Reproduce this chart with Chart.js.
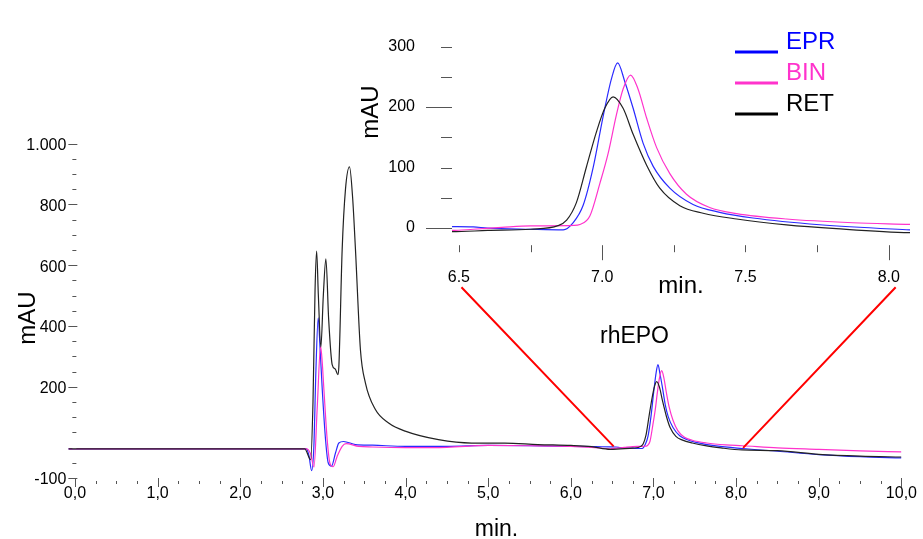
<!DOCTYPE html>
<html>
<head>
<meta charset="utf-8">
<script src="https://cdn.jsdelivr.net/npm/chart.js@4.4.1/dist/chart.umd.min.js"></script>
<style>
  body { margin: 0; background: #fff; }
  #wrap { position: relative; width: 923px; height: 539px; }
  #wrap canvas { position: absolute; left: 0; top: 0; }
</style>
</head>
<body>
<div id="wrap">
  <canvas id="main" width="923" height="539"></canvas>
  <canvas id="inset" width="923" height="539"></canvas>
</div>
<script>
// series names / colours
const seriesNames  = ['EPR', 'BIN', 'RET'];
const seriesColors = ['#2a2aff', '#ff33cc', '#222222'];
const legendText   = ['#0000ff', '#ff33cc', '#000000'];

// RET (black) – retention time (min) / absorbance (mAU)
const retTime = [-0.08, 2.78, 2.852, 2.88, 2.905, 2.924, 2.945, 2.975, 3.005, 3.036, 3.07, 3.112, 3.15, 3.181, 3.193, 3.233, 3.273, 3.322, 3.36, 3.394, 3.454, 3.514, 3.635, 3.795, 3.996, 4.398, 4.8, 5.2, 5.6, 6.0, 6.25, 6.476, 6.6, 6.75, 6.846, 6.876, 6.91, 6.945, 6.98, 7.009, 7.038, 7.073, 7.108, 7.155, 7.201, 7.271, 7.352, 7.469, 7.643, 7.817, 8.073, 8.5, 9.0, 9.5, 10.0];
const retAbs  = [-4, -4, -40, 150, 520, 646, 500, 330, 500, 621, 420, 273, 258, 240, 267, 651, 849, 923, 820, 651, 322, 213, 125, 81, 54, 26, 15, 15, 10, 7, 3, -6, -4, -2, 4, 13, 42, 101, 159, 198, 217, 198, 155, 104, 66, 37, 24.5, 15, 5.4, -1, -7.7, -10, -22, -28, -31];

// EPR (blue)
const eprTime = [-0.08, 2.8, 2.83, 2.864, 2.89, 2.915, 2.943, 2.965, 2.992, 3.032, 3.064, 3.104, 3.153, 3.193, 3.25, 3.394, 3.6, 4.0, 4.5, 5.0, 5.5, 6.0, 6.3, 6.476, 6.55, 6.6, 6.75, 6.864, 6.899, 6.934, 6.969, 7.003, 7.033, 7.054, 7.079, 7.108, 7.143, 7.178, 7.236, 7.317, 7.41, 7.526, 7.759, 8.073, 8.5, 9.0, 9.5, 10.0];
const eprAbs  = [-4, -4, -25, -76, 0, 250, 427, 330, 191, 26, -50, -61, -17, 15, 20, 10, 8, 4, 4, 7, 6, 4, 3, 2.5, 2, 0, -2, -3, 9, 38, 101, 184, 248, 273, 242, 198, 140, 102, 66, 39, 26, 16.6, 5.5, -3, -12, -23, -30, -34];

// BIN (magenta)
const binTime = [-0.08, 2.8, 2.85, 2.892, 2.932, 2.972, 2.992, 3.012, 3.052, 3.084, 3.124, 3.172, 3.233, 3.28, 3.434, 3.6, 4.0, 4.5, 5.0, 5.5, 6.0, 6.25, 6.476, 6.55, 6.65, 6.75, 6.9, 6.922, 6.957, 6.992, 7.021, 7.05, 7.073, 7.099, 7.125, 7.155, 7.19, 7.236, 7.294, 7.375, 7.469, 7.643, 7.875, 8.073, 8.5, 9.0, 9.5, 10.0];
const binAbs  = [-4, -4, -20, -64, 136, 333, 280, 191, 26, -50, -63, -29, 4, 13, 4, 2, 0, 1, 7, 6, 4, 1, -4, -2, 1, 3.5, 4.4, 6, 20, 74, 124, 188, 230, 253, 230, 182, 133, 90, 56, 34, 24, 15, 8.8, 6, -1, -6, -11, -14];

// main axis ticks
const mainXLabels = [0, 1, 2, 3, 4, 5, 6, 7, 8, 9, 10];
const mainXMinor  = [0.25, 0.5, 0.75, 1.25, 1.5, 1.75, 2.25, 2.5, 2.75, 3.25, 3.5, 3.75, 4.25, 4.5, 4.75, 5.25, 5.5, 5.75, 6.25, 6.5, 6.75, 7.25, 7.5, 7.75, 8.25, 8.5, 8.75, 9.25, 9.5, 9.75];
const mainYLabels = [-100, 200, 400, 600, 800, 1000];
const mainYMinor  = [-50, 0, 50, 100, 150, 250, 300, 350, 450, 500, 550, 650, 700, 750, 850, 900, 950];

// inset axis ticks
const insetXLabels = [6.5, 7.0, 7.5, 8.0];
const insetXTicks  = [6.5, 6.75, 7.0, 7.25, 7.5, 7.75, 8.0];
const insetXLong   = [7.0, 8.0];
const insetYTicks  = [0, 50, 100, 150, 200, 250, 300];
const insetYLabels = [0, 100, 200, 300];
const insetYLong   = [0, 200];

// zoom connector lines: inset x value -> main (x, y)
const zoomLinks = [
  { insetX: 6.509, mainX: 6.518, mainY: 4 },
  { insetX: 8.024, mainX: 8.084, mainY: -1 }
];

const FONT = '"Liberation Sans", Arial, sans-serif';
Chart.defaults.font.family = FONT;
Chart.defaults.font.size = 16;
Chart.defaults.color = '#000';

const pts = (xs, ys) => xs.map((x, i) => ({ x, y: ys[i] }));
const mkSets = () => [
  { label: seriesNames[2], data: pts(retTime, retAbs), borderColor: seriesColors[2] },
  { label: seriesNames[1], data: pts(binTime, binAbs), borderColor: seriesColors[1] },
  { label: seriesNames[0], data: pts(eprTime, eprAbs), borderColor: seriesColors[0] }
].map(d => Object.assign(d, { borderWidth: 1.2, pointRadius: 0, fill: false, cubicInterpolationMode: 'monotone' }));

const setTicks = vals => s => { s.ticks = vals.map(v => ({ value: v })); };
const fmtComma = v => v.toFixed(1).replace('.', ',');
const fmtThousand = v => Math.abs(v) >= 1000 ? (v / 1000) + '.' + String(Math.abs(v) % 1000).padStart(3, '0') : String(v);

function hLine(ctx, x1, x2, y) { y = Math.round(y) + 0.5; ctx.moveTo(x1, y); ctx.lineTo(x2, y); }
function vLine(ctx, x, y1, y2) { x = Math.round(x) + 0.5; ctx.moveTo(x, y1); ctx.lineTo(x, y2); }

const mainDeco = {
  id: 'mainDeco',
  afterDraw(chart) {
    const ctx = chart.ctx, a = chart.chartArea, xs = chart.scales.x, ys = chart.scales.y;
    ctx.save();
    ctx.strokeStyle = '#555';
    ctx.lineWidth = 1;
    ctx.beginPath();
    mainYMinor.forEach(v => hLine(ctx, a.left + 4, a.left + 8, ys.getPixelForValue(v)));
    mainYLabels.forEach(v => hLine(ctx, a.left, a.left + 9, ys.getPixelForValue(v)));
    mainXMinor.forEach(v => vLine(ctx, xs.getPixelForValue(v), a.bottom + 3, a.bottom + 6));
    mainXLabels.forEach(v => vLine(ctx, xs.getPixelForValue(v), a.bottom, a.bottom + 9));
    ctx.stroke();

    ctx.fillStyle = '#000';
    ctx.textAlign = 'center';
    ctx.textBaseline = 'alphabetic';
    ctx.font = '23px ' + FONT;
    ctx.fillText('min.', xs.getPixelForValue(5.1), 536);
    ctx.fillText('rhEPO', xs.getPixelForValue(6.77), ys.getPixelForValue(345));
    ctx.font = '24px ' + FONT;
    ctx.translate(35, 318);
    ctx.rotate(-Math.PI / 2);
    ctx.fillText('mAU', 0, 0);
    ctx.restore();
  }
};

const mainChart = new Chart(document.getElementById('main'), {
  type: 'line',
  data: { datasets: mkSets() },
  options: {
    responsive: false, animation: false, devicePixelRatio: 1,
    layout: { padding: { top: 143.5, right: 18, left: 0, bottom: 0 } },
    plugins: { legend: { display: false }, tooltip: { enabled: false } },
    scales: {
      x: {
        type: 'linear', min: -0.08, max: 10,
        grid: { display: false, drawTicks: false }, border: { display: false },
        afterBuildTicks: setTicks(mainXLabels),
        afterFit: s => { s.height = 61; },
        ticks: { padding: 6, maxRotation: 0, callback: v => fmtComma(v) }
      },
      y: {
        type: 'linear', min: -100, max: 1000,
        grid: { display: false, drawTicks: false }, border: { display: false },
        afterBuildTicks: setTicks(mainYLabels),
        afterFit: s => { s.width = 68.36; },
        ticks: { padding: 2, labelOffset: 2, callback: v => fmtThousand(v) }
      }
    }
  },
  plugins: [mainDeco]
});

const insetDeco = {
  id: 'insetDeco',
  afterDraw(chart) {
    const ctx = chart.ctx, a = chart.chartArea, xs = chart.scales.x, ys = chart.scales.y;
    ctx.save();
    ctx.strokeStyle = '#555';
    ctx.lineWidth = 1;
    ctx.beginPath();
    insetYTicks.forEach(v => hLine(ctx, a.left - (insetYLong.includes(v) ? 26 : 11), a.left, ys.getPixelForValue(v)));
    insetXTicks.forEach(v => vLine(ctx, xs.getPixelForValue(v), a.bottom - 1, a.bottom + (insetXLong.includes(v) ? 14 : 6)));
    ctx.stroke();

    // zoom connector lines into the main chart
    const mx = mainChart.scales.x, my = mainChart.scales.y;
    ctx.strokeStyle = '#ff0000';
    ctx.lineWidth = 2;
    ctx.beginPath();
    zoomLinks.forEach(l => {
      ctx.moveTo(xs.getPixelForValue(l.insetX), a.bottom + 41);
      ctx.lineTo(mx.getPixelForValue(l.mainX), my.getPixelForValue(l.mainY));
    });
    ctx.stroke();

    // legend
    ctx.lineWidth = 3;
    ctx.font = '24px ' + FONT;
    ctx.textAlign = 'left';
    ctx.textBaseline = 'alphabetic';
    seriesNames.forEach((n, i) => {
      const base = 49 + i * 31;
      ctx.strokeStyle = legendText[i];
      ctx.beginPath();
      ctx.moveTo(735, base + 3); ctx.lineTo(778, base + 3);
      ctx.stroke();
      ctx.fillStyle = legendText[i];
      ctx.fillText(n, 786, base);
    });

    // axis titles
    ctx.fillStyle = '#000';
    ctx.textAlign = 'center';
    ctx.fillText('min.', (a.left + a.right) / 2, 293);
    ctx.translate(378, 112);
    ctx.rotate(-Math.PI / 2);
    ctx.fillText('mAU', 0, 0);
    ctx.restore();
  }
};

new Chart(document.getElementById('inset'), {
  type: 'line',
  data: { datasets: mkSets() },
  options: {
    responsive: false, animation: false, devicePixelRatio: 1,
    layout: { padding: { top: 20, right: 13, left: 340, bottom: 0 } },
    plugins: { legend: { display: false }, tooltip: { enabled: false } },
    scales: {
      x: {
        type: 'linear', min: 6.476, max: 8.074,
        grid: { display: false, drawTicks: false }, border: { display: false },
        afterBuildTicks: setTicks(insetXLabels),
        afterFit: s => { s.height = 292.8; },
        ticks: { padding: 22, maxRotation: 0, callback: v => v.toFixed(1) }
      },
      y: {
        type: 'linear', min: -30, max: 300,
        grid: { display: false, drawTicks: false }, border: { display: false },
        afterBuildTicks: setTicks(insetYLabels),
        afterFit: s => { s.width = 112; },
        ticks: { padding: 37, callback: v => String(v) }
      }
    }
  },
  plugins: [insetDeco]
});
</script>
</body>
</html>
